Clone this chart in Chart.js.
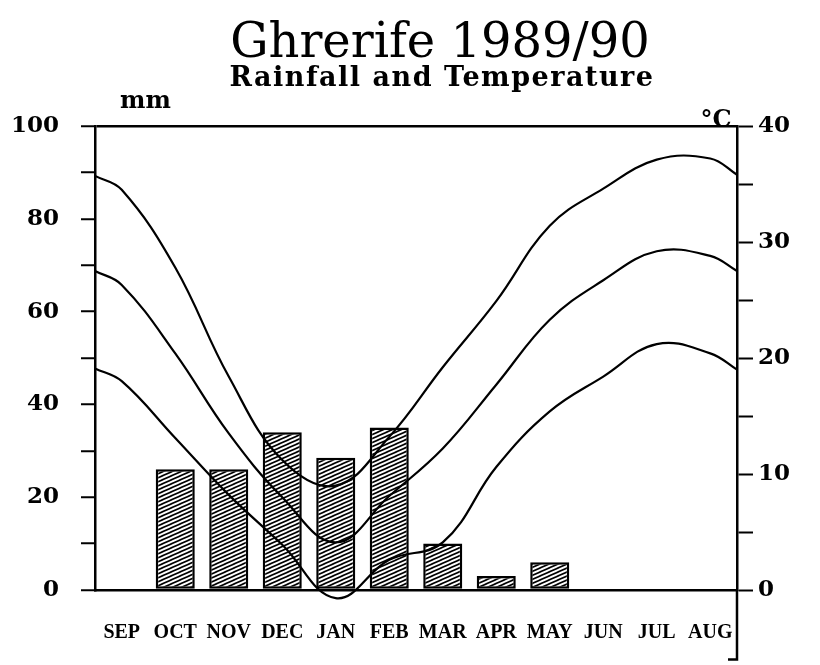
<!DOCTYPE html>
<html>
<head>
<meta charset="utf-8">
<script src="https://cdn.jsdelivr.net/npm/chart.js@4.4.1/dist/chart.umd.min.js"></script>
<style>
  body { margin: 0; background: #fff; }
  #wrap { width: 820px; height: 665px; }
</style>
</head>
<body>
<div id="wrap"><canvas id="climateChart"></canvas></div>
<script>
const months = ['SEP', 'OCT', 'NOV', 'DEC', 'JAN', 'FEB', 'MAR', 'APR', 'MAY', 'JUN', 'JUL', 'AUG'];
const rainfall = [0, 26, 26, 34, 28.5, 35, 10, 3, 6, 0, 0, 0];

// monthly temperatures (°C), plus the values where each curve meets the left / right axis
const tempMax = [34.5, 27.8, 18.4, 11.2, 9.0, 13.2, 19.2, 24.9, 31.4, 34.6, 37.1, 37.2];
const tempMean = [26.3, 20.4, 13.5, 8.0, 4.1, 8.1, 12.2, 17.7, 23.3, 26.7, 29.2, 28.8];
const tempMin = [18.0, 13.1, 8.2, 3.9, -0.7, 2.6, 4.1, 10.6, 15.4, 18.4, 21.2, 20.4];
const tempMaxEdges = [35.7, 35.8];
const tempMeanEdges = [27.5, 27.5];
const tempMinEdges = [19.1, 19.0];

const rainTicks = [0, 20, 40, 60, 80, 100];
const tempTicks = [0, 10, 20, 30, 40];
const tempAxisEnd = -6;

const chartTitle = 'Ghrerife 1989/90';
const chartSubtitle = 'Rainfall and Temperature';

function curve(values, edges) {
    const pts = [{x: 0, y: edges[0]}];
    values.forEach((v, i) => pts.push({x: i + 0.5, y: v}));
    pts.push({x: months.length, y: edges[1]});
    return pts;
}

function hatch() {
    const c = document.createElement('canvas');
    c.width = 9;
    c.height = 4;
    const g = c.getContext('2d');
    g.fillStyle = '#fff';
    g.fillRect(0, 0, 9, 4);
    g.strokeStyle = '#000';
    g.lineWidth = 1.6;
    g.beginPath();
    for (const off of [-4, 0, 4]) {
        g.moveTo(-1, 4 + off + 4 / 9);
        g.lineTo(10, off - 4 / 9);
    }
    g.stroke();
    return g.createPattern(c, 'repeat');
}

const decorations = {
    id: 'decorations',
    afterDraw(chart) {
        const {ctx, chartArea, scales} = chart;
        ctx.save();
        ctx.fillStyle = '#000';
        ctx.strokeStyle = '#000';
        ctx.textBaseline = 'alphabetic';
        ctx.textAlign = 'center';
        ctx.font = '48px "DejaVu Serif"';
        ctx.fillText(chartTitle, 440, 57);
        ctx.font = 'bold 27px "DejaVu Serif"';
        ctx.letterSpacing = '1.5px';
        ctx.fillText(chartSubtitle, 442, 86);
        ctx.letterSpacing = '0px';
        ctx.font = 'bold 24px "DejaVu Serif"';
        ctx.textAlign = 'left';
        ctx.fillText('mm', 120, 108);
        ctx.textAlign = 'center';
        ctx.fillText('°C', 716, 127);

        // right axis runs on below zero
        const x = chartArea.right;
        const yEnd = scales.y1.getPixelForValue(tempAxisEnd);
        ctx.lineWidth = 2.5;
        ctx.beginPath();
        ctx.moveTo(x, chartArea.bottom);
        ctx.lineTo(x, yEnd);
        ctx.lineTo(x - 9, yEnd);
        ctx.stroke();
        ctx.restore();
    }
};

const lineStyle = {
    type: 'line',
    xAxisID: 'x2',
    yAxisID: 'y1',
    borderColor: '#000',
    borderWidth: 2.2,
    pointRadius: 0,
    fill: false,
    clip: false,
    tension: 0.4,
    order: 1
};

new Chart(document.getElementById('climateChart'), {
    type: 'bar',
    data: {
        labels: months,
        datasets: [
            {
                type: 'bar',
                label: 'Rainfall',
                data: rainfall,
                backgroundColor: hatch(),
                borderColor: '#000',
                borderWidth: 2.5,
                borderSkipped: false,
                grouped: false,
                categoryPercentage: 1,
                barPercentage: 0.73,
                yAxisID: 'y',
                order: 2
            },
            {...lineStyle, label: 'Max', data: curve(tempMax, tempMaxEdges)},
            {...lineStyle, label: 'Mean', data: curve(tempMean, tempMeanEdges)},
            {...lineStyle, label: 'Min', data: curve(tempMin, tempMinEdges)}
        ]
    },
    options: {
        responsive: true,
        maintainAspectRatio: false,
        animation: false,
        layout: {padding: {top: 126, left: 0, right: 0, bottom: 0}},
        scales: {
            x: {
                type: 'category',
                offset: true,
                grid: {display: false},
                border: {display: true, color: '#000', width: 2.5},
                ticks: {
                    color: '#000',
                    padding: 23,
                    maxRotation: 0,
                    font: {family: 'Liberation Serif', weight: 'bold', size: 20}
                },
                afterFit: s => { s.height = 75; }
            },
            x2: {
                type: 'linear',
                min: 0,
                max: months.length,
                offset: false,
                grid: {offset: false},
                display: false
            },
            y: {
                position: 'left',
                min: 0,
                max: 100,
                ticks: {
                    stepSize: 10,
                    color: '#000',
                    padding: 22,
                    font: {family: 'DejaVu Serif', weight: 'bold', size: 23},
                    callback: v => rainTicks.includes(v) ? v : ''
                },
                grid: {
                    drawOnChartArea: true,
                    color: c => c.tick && c.tick.value === 100 ? '#000' : 'rgba(0,0,0,0)',
                    lineWidth: 2.5,
                    tickColor: '#000',
                    tickWidth: 2,
                    tickLength: 14
                },
                border: {display: true, color: '#000', width: 2.5},
                afterFit: s => { s.width = 95; }
            },
            y1: {
                position: 'right',
                min: 0,
                max: 40,
                ticks: {
                    stepSize: 5,
                    color: '#000',
                    padding: 5,
                    font: {family: 'DejaVu Serif', weight: 'bold', size: 23},
                    callback: v => tempTicks.includes(v) ? v : ''
                },
                grid: {
                    drawOnChartArea: false,
                    tickColor: '#000',
                    tickWidth: 2,
                    tickLength: 16
                },
                border: {display: true, color: '#000', width: 2.5},
                afterFit: s => { s.width = 83; }
            }
        },
        plugins: {
            legend: {display: false},
            tooltip: {enabled: false}
        }
    },
    plugins: [decorations]
});
</script>
</body>
</html>
